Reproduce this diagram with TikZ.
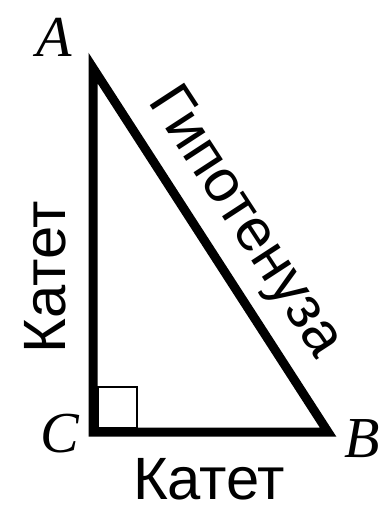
\documentclass[tikz,border=0pt]{standalone}
\usepackage{fontspec}
\setmainfont{Liberation Serif}
\setsansfont{Liberation Sans}
\usetikzlibrary{calc}

\begin{document}
\begin{tikzpicture}[x=0.02cm,y=-0.02cm,
  side/.style={line width=0.18cm},
  vertex/.style={inner sep=0pt,font=\fontsize{33}{33}\selectfont\itshape},
  leg/.style={inner sep=0pt,font=\fontsize{34}{34}\selectfont\sffamily}]
\useasboundingbox(0,0)rectangle(384,507);
\coordinate(A)at(93,68);
\coordinate(C)at(93,432);
\coordinate(B)at(328,432);
\draw[side](A)--(C)--(B)--cycle;
\draw[line width=0.05cm]($(C)+(5,-4)$)rectangle($(C)+(44,-45)$);
\node[vertex](labA)at(54,37){A};
\node[vertex](labC)at(60,434){C};
\node[vertex](labB)at(362,439){B};
\node[leg,rotate=90,anchor=base](legAC)at(65,277){Катет};
\node[leg,anchor=base](legCB)at(209,499){Катет};
\node[leg,rotate=-56.9](hyp)at(244,223){Гипотенуза};
\end{tikzpicture}
\end{document}
